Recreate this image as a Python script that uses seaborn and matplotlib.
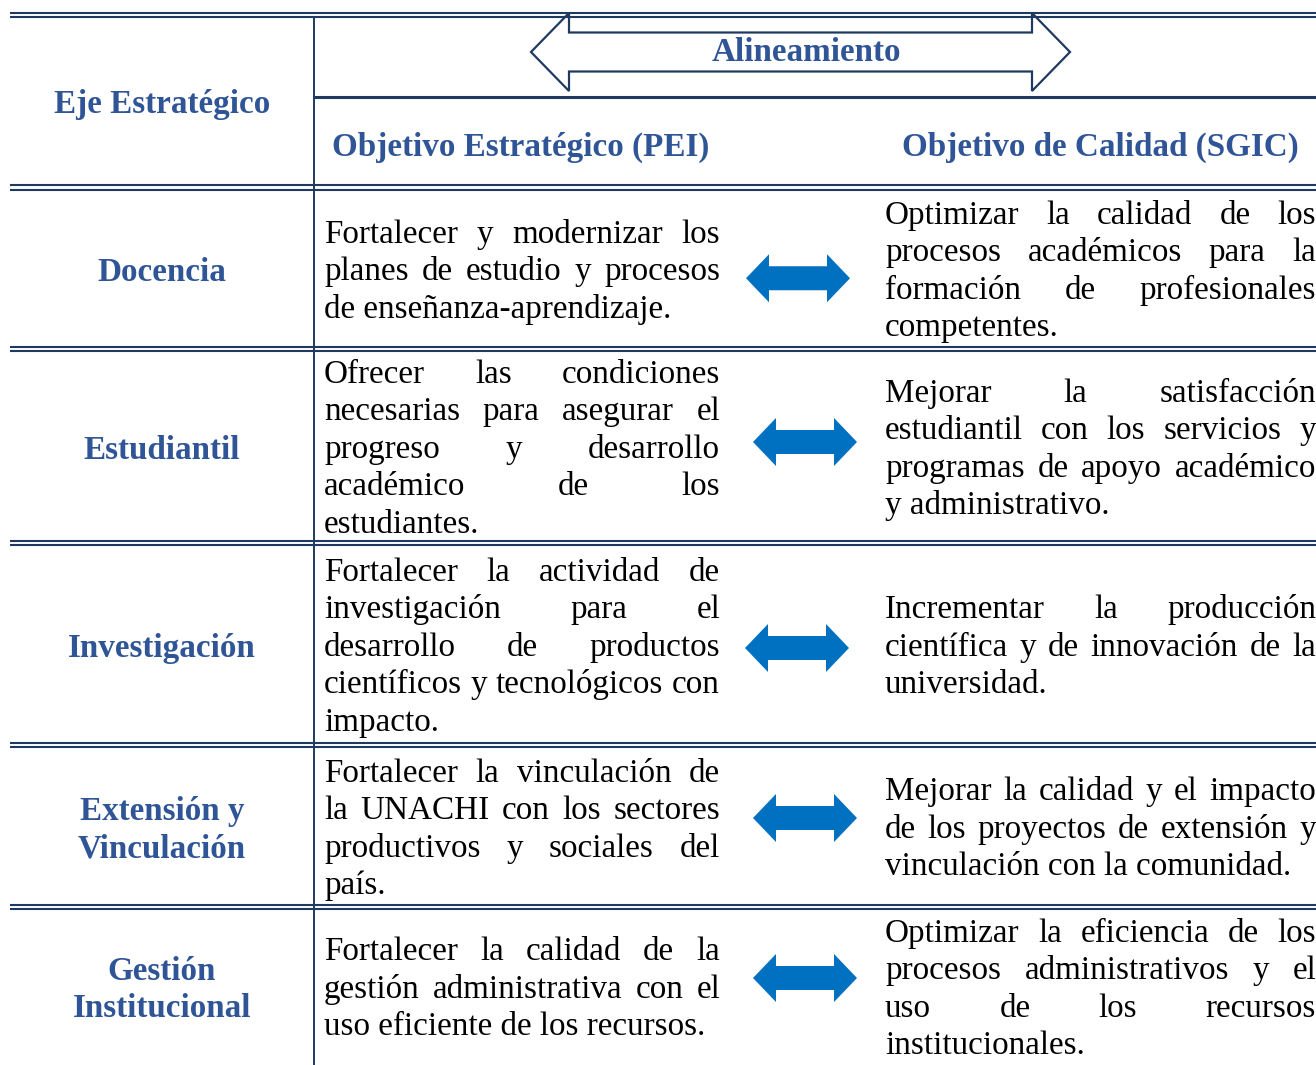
import matplotlib
matplotlib.use("Agg")
import matplotlib.pyplot as plt
from matplotlib.patches import Polygon
import seaborn as sns

sns.set_theme(style="white")
plt.rcParams["font.family"] = ["Liberation Serif", "DejaVu Serif"]

# ---- table content ----
header_top = "Alineamiento"
header_left = "Eje Estratégico"
header_mid = "Objetivo Estratégico (PEI)"
header_right = "Objetivo de Calidad (SGIC)"

ejes = [
    ["Docencia"],
    ["Estudiantil"],
    ["Investigación"],
    ["Extensión y", "Vinculación"],
    ["Gestión", "Institucional"],
]

objetivos_pei = [
    ["Fortalecer y modernizar los",
     "planes de estudio y procesos",
     "de enseñanza-aprendizaje."],
    ["Ofrecer las condiciones",
     "necesarias para asegurar el",
     "progreso y desarrollo",
     "académico de los",
     "estudiantes."],
    ["Fortalecer la actividad de",
     "investigación para el",
     "desarrollo de productos",
     "científicos y tecnológicos con",
     "impacto."],
    ["Fortalecer la vinculación de",
     "la UNACHI con los sectores",
     "productivos y sociales del",
     "país."],
    ["Fortalecer la calidad de la",
     "gestión administrativa con el",
     "uso eficiente de los recursos."],
]

objetivos_sgic = [
    ["Optimizar la calidad de los",
     "procesos académicos para la",
     "formación de profesionales",
     "competentes."],
    ["Mejorar la satisfacción",
     "estudiantil con los servicios y",
     "programas de apoyo académico",
     "y administrativo."],
    ["Incrementar la producción",
     "científica y de innovación de la",
     "universidad."],
    ["Mejorar la calidad y el impacto",
     "de los proyectos de extensión y",
     "vinculación con la comunidad."],
    ["Optimizar la eficiencia de los",
     "procesos administrativos y el",
     "uso de los recursos",
     "institucionales."],
]

# ---- layout (pixels) ----
W, H = 1316, 1065
row_edges = [187.5, 349, 543, 745, 907, 1065]
col_split = 314
mid_x0, mid_x1 = 324, 720
right_x0, right_x1 = 885, 1316
line_h = 37.5
arrow_dx = [798, 805, 797, 805, 805]
arrow_dy = [8, -6, 2, -10, -10]

navy = "#1F3A60"
head_blue = "#2F5597"
arrow_blue = "#0070C0"

fig = plt.figure(figsize=(W / 100, H / 100), dpi=100)
ax = fig.add_axes([0, 0, 1, 1])
ax.set_xlim(0, W)
ax.set_ylim(H, 0)
ax.axis("off")
renderer = fig.canvas.get_renderer()


def text_width(s, size, weight="normal"):
    t = ax.text(0, 0, s, fontsize=size, fontweight=weight)
    w = t.get_window_extent(renderer).width
    t.remove()
    return w


body_size = 10 * 394 / text_width("científicos y tecnológicos con", 10)
head_size = 10 * 377 / text_width(header_mid, 10, "bold")
body_px = body_size * 100 / 72
head_px = head_size * 100 / 72


def paragraph(lines, x0, x1, yc):
    n = len(lines)
    for i, line in enumerate(lines):
        y = yc + (i - (n - 1) / 2) * line_h + 0.3 * body_px
        words = line.split()
        if i == n - 1 or len(words) == 1:
            ax.text(x0, y, line, fontsize=body_size, color="black",
                    ha="left", va="baseline")
            continue
        ws = [text_width(w, body_size) for w in words]
        gap = (x1 - x0 - sum(ws)) / (len(words) - 1)
        x = x0
        for w, ww in zip(words, ws):
            ax.text(x, y, w, fontsize=body_size, color="black",
                    ha="left", va="baseline")
            x += ww + gap


def heading(s, x, yc):
    ax.text(x, yc + 0.33 * head_px, s, fontsize=head_size, fontweight="bold",
            color=head_blue, ha="center", va="baseline")


def double_arrow(xc, yc, length, head_len, head_h, shaft_h, **kw):
    x0, x1 = xc - length / 2, xc + length / 2
    pts = [(x0, yc), (x0 + head_len, yc - head_h), (x0 + head_len, yc - shaft_h),
           (x1 - head_len, yc - shaft_h), (x1 - head_len, yc - head_h), (x1, yc),
           (x1 - head_len, yc + head_h), (x1 - head_len, yc + shaft_h),
           (x0 + head_len, yc + shaft_h), (x0 + head_len, yc + head_h)]
    ax.add_patch(Polygon(pts, closed=True, **kw))


# alignment arrow in the header
double_arrow(800.5, 52, 539, 38, 39, 19.5, facecolor="white",
             edgecolor=navy, lw=1.6, zorder=1)
ax.text(806, 50 + 0.33 * head_px, header_top, fontsize=head_size,
        fontweight="bold", color=head_blue, ha="center", va="baseline", zorder=3)

# rules
lw2 = 1.5
for y in (12.5, 17):
    ax.plot([10, W], [y, y], color=navy, lw=lw2, solid_capstyle="butt", zorder=2)
for y in row_edges[:-1]:
    for d in (-2.3, 2.3):
        ax.plot([10, W], [y + d, y + d], color=navy, lw=lw2,
                solid_capstyle="butt", zorder=2)
ax.plot([col_split, W], [97, 97], color=navy, lw=2.2, solid_capstyle="butt", zorder=2)
ax.plot([col_split, col_split], [17, H], color=navy, lw=1.4, zorder=2)

# headers
heading(header_left, 162, 102)
heading(header_mid, 521, 145)
heading(header_right, 1100, 145)

# body rows
for r in range(len(ejes)):
    yc = (row_edges[r] + row_edges[r + 1]) / 2 + 2
    n = len(ejes[r])
    for i, lab in enumerate(ejes[r]):
        heading(lab, 162, yc + (i - (n - 1) / 2) * 37)
    paragraph(objetivos_pei[r], mid_x0, mid_x1, yc)
    paragraph(objetivos_sgic[r], right_x0, right_x1, yc)
    double_arrow(arrow_dx[r], yc + arrow_dy[r], 104, 23, 24, 12,
                 facecolor=arrow_blue, edgecolor="none", zorder=2)

fig.savefig("out.png", dpi=100)
